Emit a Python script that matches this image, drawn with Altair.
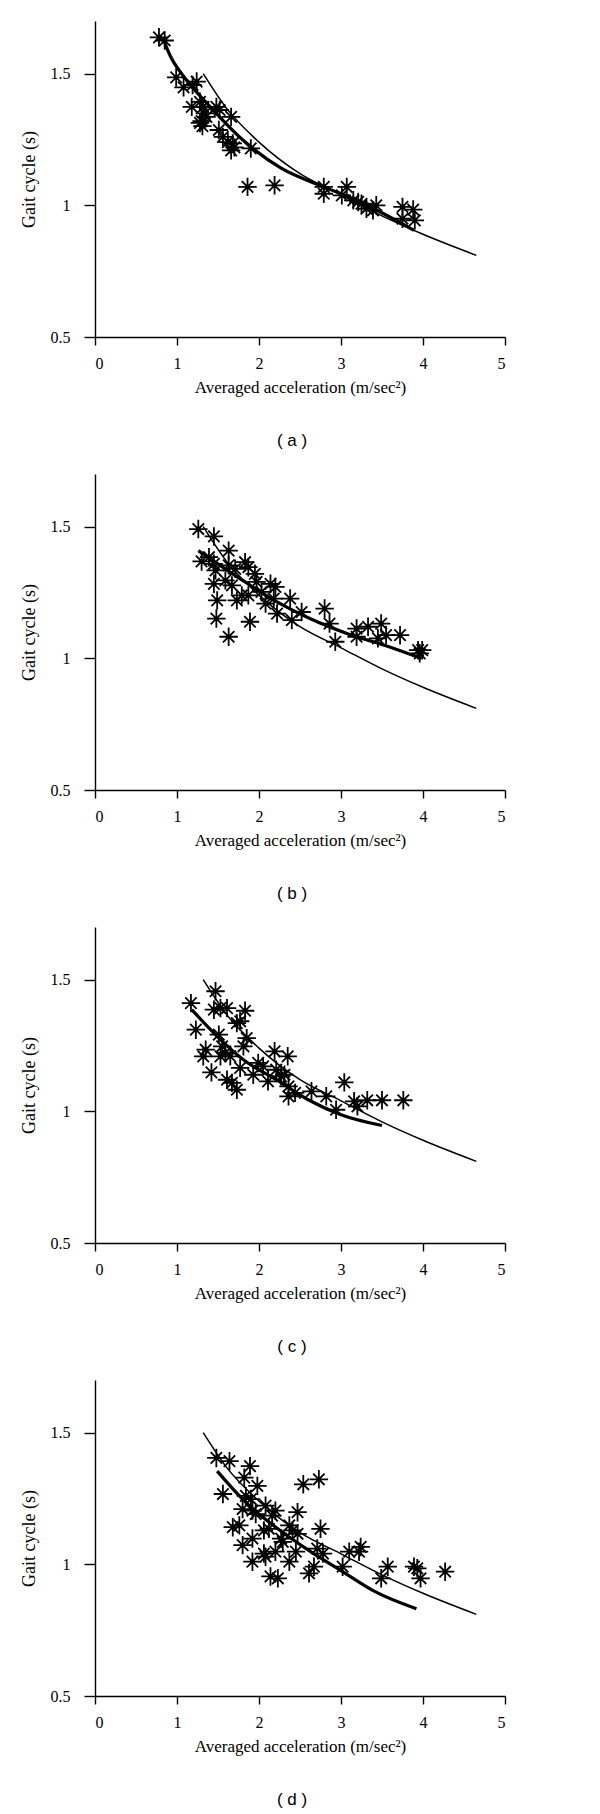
import altair as alt
import pandas as pd

# ---- data ----
ref_x = [1.32, 1.6, 2.0, 2.5, 3.0, 3.5, 4.0, 4.65]
ref_y = [1.50, 1.37, 1.24, 1.12, 1.04, 0.96, 0.89, 0.81]

a_x = [0.78, 0.85, 0.99, 1.08, 1.19, 1.24, 1.18, 1.28, 1.32, 1.34, 1.28, 1.31, 1.36, 1.48, 1.52,
       1.51, 1.56, 1.66, 1.68, 1.66, 1.90, 1.86, 2.19, 2.79, 2.79, 3.07, 3.01, 3.15, 3.21, 3.25,
       3.31, 3.43, 3.39, 3.75, 3.75, 3.88, 3.90, 1.30, 1.62, 1.70]
a_y = [1.638, 1.626, 1.486, 1.448, 1.457, 1.470, 1.374, 1.393, 1.374, 1.349, 1.313, 1.301, 1.336,
       1.374, 1.362, 1.286, 1.260, 1.336, 1.235, 1.209, 1.216, 1.070, 1.076, 1.070, 1.044, 1.070,
       1.038, 1.019, 1.013, 1.006, 0.987, 1.000, 0.981, 0.994, 0.949, 0.984, 0.943, 1.32, 1.24, 1.22]
a_fit_x = [0.85, 0.92, 1.08, 1.40, 1.80, 2.27, 2.79, 3.19, 3.89]
a_fit_y = [1.617, 1.566, 1.490, 1.376, 1.249, 1.141, 1.070, 1.019, 0.905]

b_x = [1.26, 1.45, 1.63, 1.30, 1.39, 1.45, 1.47, 1.45, 1.49, 1.48, 1.63, 1.59, 1.67, 1.63, 1.71,
       1.83, 1.87, 1.73, 1.79, 1.87, 1.95, 1.97, 1.89, 2.03, 2.08, 2.14, 2.20, 2.18, 2.22, 2.38,
       2.40, 2.52, 2.80, 2.86, 2.93, 3.19, 3.19, 3.33, 3.49, 3.45, 3.55, 3.72, 3.94, 3.96, 3.99]
b_y = [1.491, 1.463, 1.409, 1.368, 1.384, 1.359, 1.334, 1.283, 1.220, 1.151, 1.082, 1.296, 1.277,
       1.353, 1.340, 1.365, 1.346, 1.220, 1.239, 1.239, 1.321, 1.290, 1.139, 1.252, 1.208, 1.283,
       1.271, 1.227, 1.170, 1.227, 1.145, 1.176, 1.189, 1.132, 1.063, 1.113, 1.082, 1.120, 1.132,
       1.076, 1.088, 1.088, 1.031, 1.019, 1.031]
b_fit_x = [1.26, 1.83, 2.22, 2.62, 3.13, 3.53, 3.98]
b_fit_y = [1.409, 1.290, 1.214, 1.151, 1.088, 1.050, 1.000]

c_x = [1.17, 1.23, 1.47, 1.45, 1.53, 1.61, 1.83, 1.73, 1.77, 1.35, 1.32, 1.51, 1.55, 1.42, 1.53,
       1.59, 1.65, 1.61, 1.67, 1.73, 1.77, 1.81, 1.85, 1.93, 1.99, 2.05, 2.11, 2.19, 2.21, 2.27,
       2.35, 2.31, 2.36, 2.36, 2.44, 2.64, 2.82, 2.94, 3.04, 3.16, 3.20, 3.32, 3.50, 3.76]
c_y = [1.411, 1.310, 1.456, 1.386, 1.392, 1.392, 1.382, 1.335, 1.342, 1.234, 1.209, 1.291, 1.247,
       1.148, 1.209, 1.222, 1.209, 1.120, 1.108, 1.082, 1.165, 1.247, 1.278, 1.139, 1.184, 1.171,
       1.114, 1.228, 1.158, 1.133, 1.209, 1.139, 1.095, 1.057, 1.070, 1.076, 1.057, 1.006, 1.110,
       1.038, 1.019, 1.042, 1.042, 1.042]
c_fit_x = [1.18, 1.49, 1.81, 2.21, 2.60, 3.00, 3.50]
c_fit_y = [1.386, 1.285, 1.196, 1.120, 1.044, 0.987, 0.946]

d_x = [1.48, 1.64, 1.89, 1.56, 1.82, 1.98, 1.84, 1.90, 1.80, 1.92, 1.96, 1.68, 1.76, 1.80, 1.92,
       1.92, 2.06, 2.08, 2.16, 2.20, 2.12, 2.06, 2.08, 2.20, 2.14, 2.23, 2.27, 2.29, 2.37, 2.41,
       2.47, 2.47, 2.37, 2.45, 2.54, 2.73, 2.75, 2.61, 2.67, 2.71, 2.78, 3.02, 3.10, 3.24, 3.22,
       3.49, 3.57, 3.89, 3.93, 3.97, 4.27]
d_y = [1.404, 1.392, 1.373, 1.267, 1.329, 1.298, 1.260, 1.248, 1.210, 1.204, 1.191, 1.141, 1.148,
       1.073, 1.098, 1.010, 1.129, 1.223, 1.185, 1.204, 1.135, 1.041, 1.029, 1.048, 0.954, 0.947,
       1.098, 1.085, 1.148, 1.129, 1.198, 1.116, 1.010, 1.048, 1.304, 1.323, 1.135, 0.966, 0.991,
       1.060, 1.041, 0.991, 1.048, 1.066, 1.048, 0.947, 0.991, 0.991, 0.985, 0.947, 0.972]
d_fit_x = [1.49, 1.84, 2.23, 2.63, 3.02, 3.41, 3.92]
d_fit_y = [1.354, 1.235, 1.135, 1.048, 0.972, 0.897, 0.831]

x_ticks = [0, 1, 2, 3, 4, 5]
y_ticks = [0.5, 1, 1.5]
x_title = "Averaged acceleration (m/sec\u00b2)"
y_title = "Gait cycle (s)"
panel_labels = ["( a )", "( b )", "( c )", "( d )"]

STAR = "M-1,0L1,0M0,-1L0,1M-0.62,-0.62L0.62,0.62M-0.62,0.62L0.62,-0.62"
W, H = 410, 316
SERIF = "Liberation Serif"


def axis(values, fmt, label_pad, title_pad, tick, title_size):
    return alt.Axis(values=values, format=fmt, grid=False, labelPadding=label_pad,
                    titlePadding=title_pad, tickSize=tick, labelFont=SERIF, titleFont=SERIF,
                    labelFontSize=16, titleFontSize=title_size, titleFontWeight="normal",
                    labelColor="black", titleColor="black", domainColor="black",
                    tickColor="black", domainWidth=1.4, tickWidth=1.4)


def panel(px, py, fx, fy, label):
    pts = pd.DataFrame({"x": px, "y": py})
    fit = pd.DataFrame({"x": fx, "y": fy})
    ref = pd.DataFrame({"x": ref_x, "y": ref_y})
    xs = alt.Scale(domain=[0, 5], nice=False, zero=False)
    ys = alt.Scale(domain=[0.5, 1.7], nice=False, zero=False)
    xenc = alt.X("x:Q", scale=xs, title=x_title, axis=axis(x_ticks, "d", 10, 8, 8, 17))
    yenc = alt.Y("y:Q", scale=ys, title=y_title, axis=axis(y_ticks, "~g", 14, 12, 11, 18))
    ref_line = alt.Chart(ref).mark_line(color="black", strokeWidth=1.5, interpolate="monotone").encode(
        x=xenc, y=yenc)
    fit_line = alt.Chart(fit).mark_line(color="black", strokeWidth=3.2, interpolate="monotone").encode(
        x="x:Q", y="y:Q")
    stars = alt.Chart(pts).mark_point(shape=STAR, size=340, filled=False, color="black",
                                      strokeWidth=1.8, opacity=1).encode(x="x:Q", y="y:Q")
    dots = alt.Chart(pts).mark_point(shape="circle", size=12, filled=True, color="black",
                                     opacity=1).encode(x="x:Q", y="y:Q")
    return alt.layer(ref_line, fit_line, stars, dots).properties(
        width=W, height=H,
        title=alt.TitleParams(label, orient="bottom", font="Liberation Sans", fontSize=17,
                              fontWeight="normal", color="black", offset=38, anchor="middle",
                              frame="group", dx=-8))


chart = alt.vconcat(
    panel(a_x, a_y, a_fit_x, a_fit_y, panel_labels[0]),
    panel(b_x, b_y, b_fit_x, b_fit_y, panel_labels[1]),
    panel(c_x, c_y, c_fit_x, c_fit_y, panel_labels[2]),
    panel(d_x, d_y, d_fit_x, d_fit_y, panel_labels[3]),
    spacing=25,
).properties(
    padding={"left": 12, "top": 13, "right": 5, "bottom": 0},
    background="white",
).configure_view(stroke=None)

chart.save("out.html", embed_options={"renderer": "svg", "actions": False})
